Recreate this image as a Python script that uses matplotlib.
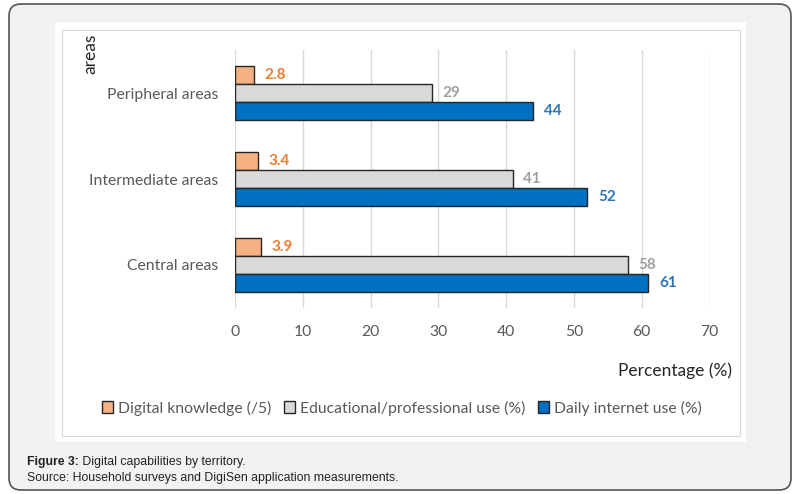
import matplotlib
matplotlib.use("Agg")
import matplotlib.pyplot as plt
from matplotlib.patches import FancyBboxPatch, Rectangle
import numpy as np

categories = ["Central areas", "Intermediate areas", "Peripheral areas"]
digital_knowledge = [3.9, 3.4, 2.8]
educational_use = [58, 41, 29]
daily_internet = [61, 52, 44]
series_names = ["Digital knowledge (/5)", "Educational/professional use (%)", "Daily internet use (%)"]
xticks = [0, 10, 20, 30, 40, 50, 60, 70]

W, H = 801, 494
fig = plt.figure(figsize=(W / 100, H / 100), dpi=100)
fig.patch.set_facecolor("white")

FONT = "Lato"

# outer rounded box
outer = FancyBboxPatch((9 / 100, 4 / 100), (791 - 9) / 100, (490 - 4) / 100,
                       boxstyle="round,pad=0,rounding_size=0.12",
                       transform=fig.dpi_scale_trans, facecolor="#f2f2f2",
                       edgecolor="#555555", linewidth=1.2, zorder=0)
fig.patches.append(outer)
# white chart panel
panel = Rectangle((55 / W, 1 - 442 / H), (746 - 55) / W, (442 - 22) / H,
                  transform=fig.transFigure, facecolor="white", edgecolor="none", zorder=0.5)
fig.patches.append(panel)
inner = Rectangle((62 / W, 1 - 436 / H), (740 - 62) / W, (436 - 30) / H,
                  transform=fig.transFigure, facecolor="none", edgecolor="#d9d9d9",
                  linewidth=0.8, zorder=0.6)
fig.patches.append(inner)

ax = fig.add_axes([235 / W, 1 - 308 / H, (709.5 - 235) / W, (308 - 50) / H])
ax.set_facecolor("none")
ax.set_zorder(2)

y = np.arange(len(categories))
h = 0.21
colors = ["#f4b183", "#d9d9d9", "#0070c0"]
label_colors = ["#ed7d31", "#a0a0a0", "#2e75b6"]
data = [digital_knowledge, educational_use, daily_internet]
offsets = [h, 0, -h]
for vals, off, c, lc, name in zip(data, offsets, colors, label_colors, series_names):
    bars = ax.barh(y + off, vals, height=h, color=c, edgecolor="#262626", linewidth=1.0,
                   label=name, zorder=3)
    for b, v in zip(bars, vals):
        ax.annotate(f"{v:g}", xy=(v, b.get_y() + b.get_height() / 2), xytext=(7.5, 0),
                    textcoords="offset points", va="center", ha="left",
                    fontsize=11, fontweight="bold", color=lc, family=FONT)

ax.set_xlim(0, 70)
ax.set_ylim(-0.5, 2.5)
ax.set_xticks(xticks)
ax.set_yticks(y)
ax.set_yticklabels(categories)
ax.grid(axis="x", color="#d9d9d9", linewidth=1.0, zorder=0)
for s in ax.spines.values():
    s.set_visible(False)
ax.tick_params(axis="both", length=0, labelsize=11.3, labelcolor="#595959")
ax.tick_params(axis="x", pad=12)
ax.tick_params(axis="y", pad=12)
for t in ax.get_xticklabels() + ax.get_yticklabels():
    t.set_family(FONT)

fig.text(675 / W, 1 - 371 / H, "Percentage (%)", ha="center", va="center",
         fontsize=12.5, color="#262626", family=FONT)
fig.text(90 / W, 1 - 34 / H, "areas", rotation=90, ha="center", va="top",
         fontsize=12.5, color="#262626", family=FONT)

leg = fig.legend(loc="center", bbox_to_anchor=(402 / W, 1 - 408 / H), ncol=3, frameon=False,
                 prop={"family": FONT, "size": 11.3}, handlelength=0.72, handleheight=0.72,
                 handletextpad=0.3, columnspacing=0.8)
for t in leg.get_texts():
    t.set_color("#595959")

t1 = fig.text(27 / W, 1 - 462 / H, "Figure 3:", ha="left", va="center",
              fontsize=8.8, fontweight="bold", color="#222222", family="Liberation Sans")
fig.canvas.draw()
ax.annotate(" Digital capabilities by territory.", xy=(1, 0.5), xycoords=t1,
            ha="left", va="center", fontsize=8.8, color="#222222", family="Liberation Sans",
            annotation_clip=False)
fig.text(27 / W, 1 - 478 / H, "Source: Household surveys and DigiSen application measurements.",
         ha="left", va="center", fontsize=8.8, color="#222222", family="Liberation Sans")

fig.savefig("out.png", dpi=100)
